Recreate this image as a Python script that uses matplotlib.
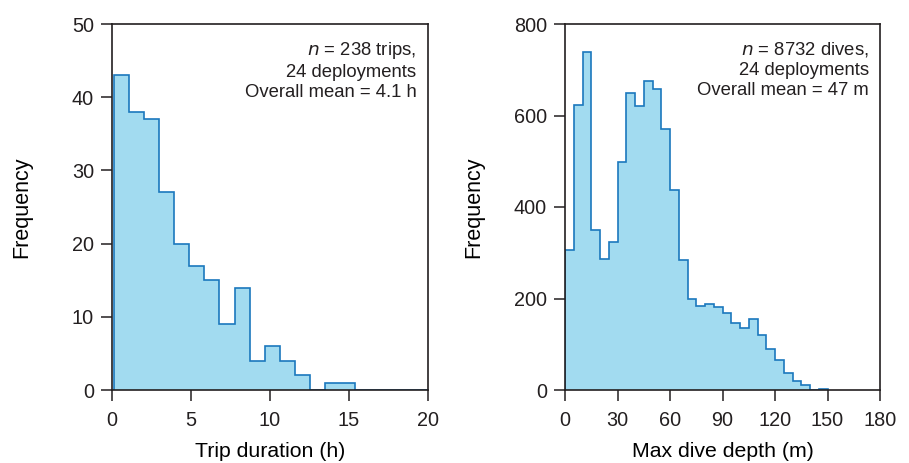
import numpy as np
import matplotlib
matplotlib.use("Agg")
import matplotlib.pyplot as plt

plt.rcParams['font.family'] = ['Liberation Sans', 'DejaVu Sans']

# trip duration histogram (h)
trip_start = 0.13
trip_width = 0.953
trip_counts = [43, 38, 37, 27, 20, 17, 15, 9, 14, 4, 6, 4, 2, 0, 1, 1, 0, 0, 0, 0, 0]

# max dive depth histogram (m), 5 m bins
dive_width = 5
dive_counts = [306, 624, 739, 350, 286, 323, 499, 650, 621, 675, 658, 571, 437, 285,
               199, 184, 189, 182, 168, 147, 136, 156, 120, 90, 66, 38, 20, 11, 1, 3]

fill_col = '#a2dbf0'
edge_col = '#1b78bd'
ink = '#231f20'

fig = plt.figure(figsize=(9.09, 4.63), dpi=100)
ax1 = fig.add_axes([112/909, 1-390/463, 316/909, 366/463])
ax2 = fig.add_axes([565/909, 1-390/463, 315/909, 366/463])


def draw_hist(ax, counts, edges):
    ax.stairs(counts, edges, fill=True, color=fill_col, lw=0)
    ax.stairs(counts, edges, baseline=0, color=edge_col, lw=1.2)


edges1 = trip_start + trip_width * np.arange(len(trip_counts) + 1)
draw_hist(ax1, trip_counts, edges1)
ax1.set_xlim(0, 20)
ax1.set_ylim(0, 50)
ax1.set_xticks([0, 5, 10, 15, 20])
ax1.set_yticks([0, 10, 20, 30, 40, 50])
ax1.set_xlabel('Trip duration (h)', fontsize=15.3)
ax1.set_ylabel('Frequency', fontsize=15.5)
ax1.yaxis.set_label_coords(-0.253, 0.5)

edges2 = dive_width * np.arange(len(dive_counts) + 1)
draw_hist(ax2, dive_counts, edges2)
ax2.set_xlim(0, 180)
ax2.set_ylim(0, 800)
ax2.set_xticks([0, 30, 60, 90, 120, 150, 180])
ax2.set_yticks([0, 200, 400, 600, 800])
ax2.set_xlabel('Max dive depth (m)', fontsize=15.3)
ax2.set_ylabel('Frequency', fontsize=15.5)
ax2.yaxis.set_label_coords(-0.257, 0.5)

for ax in (ax1, ax2):
    for s in ax.spines.values():
        s.set_color(ink)
        s.set_linewidth(1.2)
    ax.tick_params(direction='out', length=8, width=1.1, color=ink,
                   labelsize=14.3, labelcolor=ink, pad=5)
    ax.tick_params(axis='x', pad=7)
    ax.xaxis.set_label_coords(0.5, -0.142)

ax1.text(0.963, 0.955, '$\\it{n}$ = 238 trips,\n24 deployments\nOverall mean = 4.1 h',
         transform=ax1.transAxes, ha='right', va='top', fontsize=13.3,
         color=ink, linespacing=1.23)
ax2.text(0.964, 0.955, '$\\it{n}$ = 8732 dives,\n24 deployments\nOverall mean = 47 m',
         transform=ax2.transAxes, ha='right', va='top', fontsize=13.3,
         color=ink, linespacing=1.23)

fig.savefig('out.png', dpi=100)
